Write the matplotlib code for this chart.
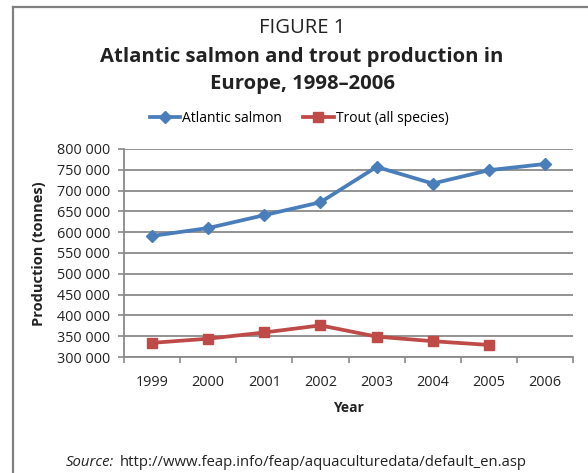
import matplotlib.pyplot as plt
import matplotlib.lines as mlines
from matplotlib.ticker import FuncFormatter, MultipleLocator, FixedLocator

# --- data ---
years = ['1999', '2000', '2001', '2002', '2003', '2004', '2005', '2006']
salmon = [591000, 610000, 641000, 672000, 757000, 717000, 749000, 764000]
trout = [334000, 344000, 359000, 376000, 349000, 338000, 329000]

SALMON_COLOR = '#4a7ebb'
TROUT_COLOR = '#be4b48'
GRID_COLOR = '#8a8a8a'
TEXT_COLOR = '#222222'

plt.rcParams['font.family'] = ['Open Sans', 'DejaVu Sans']

fig = plt.figure(figsize=(5.88, 4.73), dpi=100)
ax = fig.add_axes([124 / 588, 1 - 357 / 473, 449 / 588, 208 / 473])

x_salmon = list(range(len(salmon)))
x_trout = list(range(len(trout)))
ax.plot(x_salmon, salmon, color=SALMON_COLOR, lw=2.7, marker='D', ms=6.5,
        mec=SALMON_COLOR, mfc=SALMON_COLOR, zorder=4, clip_on=False)
ax.plot(x_trout, trout, color=TROUT_COLOR, lw=2.7, marker='s', ms=7,
        mec=TROUT_COLOR, mfc=TROUT_COLOR, zorder=4, clip_on=False)

ax.set_xlim(-0.5, len(years) - 0.5)
ax.set_ylim(300000, 800000)
ax.yaxis.set_major_locator(MultipleLocator(50000))
ax.yaxis.set_major_formatter(FuncFormatter(lambda v, p: f'{int(v):,}'.replace(',', ' ')))

# category labels centred, ticks on the boundaries
ax.set_xticks(range(len(years)))
ax.set_xticklabels(years)
ax.tick_params(axis='x', which='major', length=0, pad=13, labelsize=10.4, colors=TEXT_COLOR)
ax.xaxis.set_minor_locator(FixedLocator([i - 0.5 for i in range(len(years) + 1)]))
ax.tick_params(axis='x', which='minor', length=4, width=1.2, color=GRID_COLOR)
ax.tick_params(axis='y', length=4, width=1.2, color=GRID_COLOR, labelsize=10.4,
               labelcolor=TEXT_COLOR, pad=6)

ax.grid(axis='y', color=GRID_COLOR, lw=1.3)
ax.set_axisbelow(True)
for side in ['top', 'right']:
    ax.spines[side].set_visible(False)
for side in ['left', 'bottom']:
    ax.spines[side].set_color(GRID_COLOR)
    ax.spines[side].set_linewidth(1.3)

# titles
cx = 302 / 588
fig.text(cx, 1 - 28 / 473, 'FIGURE 1', ha='center', va='center',
         fontsize=14.6, color=TEXT_COLOR)
fig.text(cx, 1 - 57 / 473, 'Atlantic salmon and trout production in',
         ha='center', va='center', fontsize=14.6, fontweight='bold', color=TEXT_COLOR)
fig.text(cx, 1 - 84 / 473, 'Europe, 1998\u20132006',
         ha='center', va='center', fontsize=14.6, fontweight='bold', color=TEXT_COLOR)

# legend
h1 = mlines.Line2D([], [], color=SALMON_COLOR, lw=2.7, marker='D', ms=6.5)
h2 = mlines.Line2D([], [], color=TROUT_COLOR, lw=2.7, marker='s', ms=7)
fig.legend([h1, h2], ['Atlantic salmon', 'Trout (all species)'], ncol=2,
           loc='center', bbox_to_anchor=(299 / 588, 1 - 118 / 473), frameon=False,
           fontsize=10, handlelength=2.2, handletextpad=0.15, columnspacing=1.5)

# axis labels
fig.text(39 / 588, 1 - 254 / 473, 'Production (tonnes)', rotation=90,
         ha='center', va='center', fontsize=10.5, fontweight='bold', color=TEXT_COLOR)
fig.text(348 / 588, 1 - 408 / 473, 'Year', ha='center', va='center',
         fontsize=10, fontweight='bold', color=TEXT_COLOR)

# source line
fig.text(114 / 588, 1 - 462 / 473, 'Source:', style='italic', ha='right',
         va='center', fontsize=10.7, color=TEXT_COLOR)
fig.text(120 / 588, 1 - 462 / 473, 'http://www.feap.info/feap/aquaculturedata/default_en.asp',
         ha='left', va='center', fontsize=10.7, color=TEXT_COLOR)

# page frame
fig.add_artist(mlines.Line2D([13 / 588, 13 / 588], [0, 1 - 7 / 473],
                             color='#808080', lw=1.6, transform=fig.transFigure))
fig.add_artist(mlines.Line2D([13 / 588, 1], [1 - 7 / 473, 1 - 7 / 473],
                             color='#808080', lw=1.6, transform=fig.transFigure))

fig.savefig('out.png', dpi=100)
